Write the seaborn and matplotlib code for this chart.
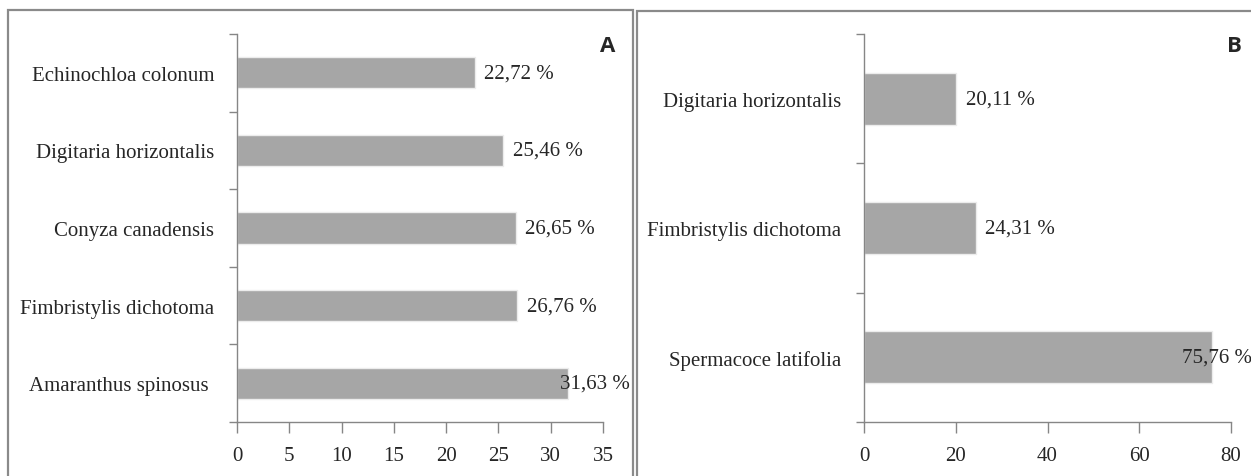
import numpy as np
import pandas as pd
import matplotlib.pyplot as plt
import seaborn as sns
from matplotlib.patches import Rectangle

# Panel A data (top to bottom)
species_a = ['Echinochloa colonum', 'Digitaria horizontalis', 'Conyza canadensis',
             'Fimbristylis dichotoma', 'Amaranthus spinosus ']
values_a = [22.72, 25.46, 26.65, 26.76, 31.63]
ticks_a = [0, 5, 10, 15, 20, 25, 30, 35]

# Panel B data (top to bottom)
species_b = ['Digitaria horizontalis', 'Fimbristylis dichotoma', 'Spermacoce latifolia']
values_b = [20.11, 24.31, 75.76]
ticks_b = [0, 20, 40, 60, 80]

sns.set_style('white')
plt.rcParams['font.family'] = ['Liberation Serif', 'DejaVu Serif']

bar_color = '#a6a6a6'
axis_color = '#868686'
fs = 15

fig = plt.figure(figsize=(12.51, 4.77), dpi=100)

# panel frames
for x0, x1, y0 in [(8, 633, 11), (637, 1260, 12)]:
    fig.patches.append(Rectangle((x0 / 1251, -0.1), (x1 - x0) / 1251, (477 - y0) / 477 + 0.1,
                                 transform=fig.transFigure, fill=False,
                                 edgecolor='#8a8a8a', linewidth=1.6, zorder=0))


def draw_panel(rect, names, vals, ticks, label_cap, letter, letter_x):
    ax = fig.add_axes(rect)
    df = pd.DataFrame({'species': names, 'value': vals})
    sns.barplot(data=df, x='value', y='species', orient='h', color=bar_color,
                saturation=1, width=0.4, edgecolor='#ececec', linewidth=1, ax=ax)
    n = len(names)
    ax.set_xlim(ticks[0], ticks[-1])
    ax.set_ylim(n - 0.5, -0.5)
    ax.set_xticks(ticks)
    ax.set_xticklabels([str(t) for t in ticks], fontsize=fs)
    ax.set_yticks(range(n))
    ax.set_yticklabels(names, fontsize=fs)
    ax.set_yticks(np.arange(n + 1) - 0.5, minor=True)
    ax.tick_params(axis='y', which='major', length=0, pad=16.5)
    ax.tick_params(axis='y', which='minor', length=6, width=1, color=axis_color, left=True)
    ax.tick_params(axis='x', which='major', length=8, width=1, color=axis_color,
                   bottom=True, pad=9)
    ax.set_xlabel('')
    ax.set_ylabel('')
    for s in ['top', 'right']:
        ax.spines[s].set_visible(False)
    for s in ['left', 'bottom']:
        ax.spines[s].set_color(axis_color)
        ax.spines[s].set_linewidth(1)
    # value labels
    for i, v in enumerate(vals):
        xpos = min(v, label_cap)
        ax.annotate(f'{v:.2f}'.replace('.', ',') + ' %', xy=(xpos, i),
                    xytext=(7 if v < label_cap else 0, 0), textcoords='offset points',
                    ha='left', va='center', fontsize=fs, annotation_clip=False)
    fig.text(letter_x / 1251, 1 - 47 / 477, letter, family=['Open Sans', 'DejaVu Sans'],
             fontweight='bold', fontsize=16, ha='center', va='center')
    return ax


draw_panel([237 / 1251, 54 / 477, 366 / 1251, 388 / 477], species_a, values_a, ticks_a,
           30.9, 'A', 608)
draw_panel([864 / 1251, 54 / 477, 367 / 1251, 388 / 477], species_b, values_b, ticks_b,
           69.4, 'B', 1234)

fig.savefig('out.png', dpi=100)
